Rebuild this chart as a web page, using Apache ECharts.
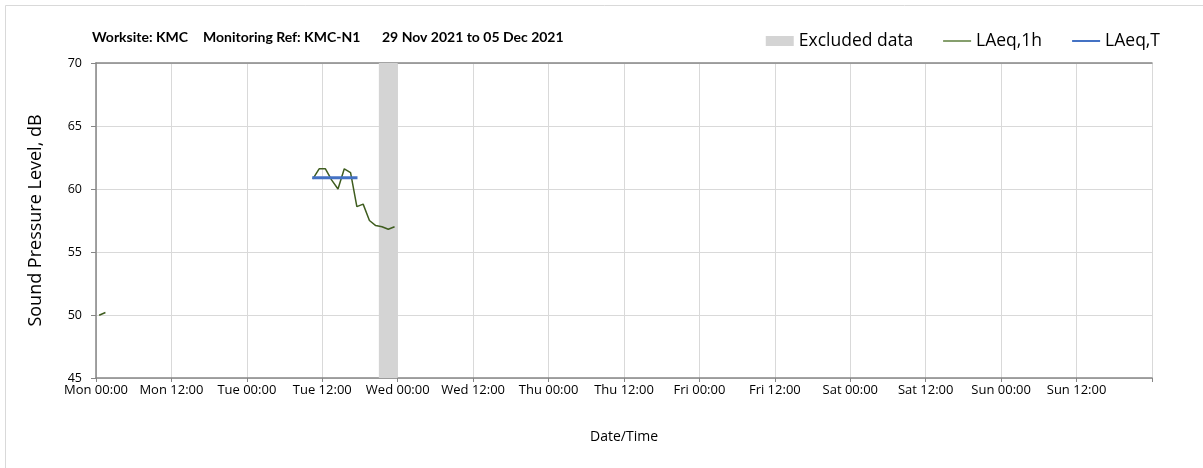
<!DOCTYPE html>
<html>
<head>
<meta charset="utf-8">
<script src="https://cdn.jsdelivr.net/npm/echarts@6/dist/echarts.min.js"></script>
<style>
  html, body { margin: 0; padding: 0; background: #fff; }
  #chart { width: 1203px; height: 468px; }
</style>
</head>
<body>
<div id="chart"></div>
<script>
// hours counted from Mon 29 Nov 2021 00:00
const tickLabels = ['Mon 00:00', 'Mon 12:00', 'Tue 00:00', 'Tue 12:00', 'Wed 00:00', 'Wed 12:00',
  'Thu 00:00', 'Thu 12:00', 'Fri 00:00', 'Fri 12:00', 'Sat 00:00', 'Sat 12:00', 'Sun 00:00', 'Sun 12:00'];
const hourlyHours = [0.5, 1.5, 2.5, 34.5, 35.5, 36.5, 37.5, 38.5, 39.5, 40.5, 41.5, 42.5, 43.5, 44.5, 45.5, 46.5, 47.5];
const hourlyValues = [49.98, 50.2, null, 60.8, 61.6, 61.6, 60.7, 60.0, 61.6, 61.3, 58.6, 58.8, 57.5, 57.1, 57.0, 56.8, 57.0];
const periodHours = [34.4, 41.6];
const periodValues = [60.9, 60.9];
const excludedRange = [45, 48];

const chart = echarts.init(document.getElementById('chart'));
const font = '"Open Sans", Lato, sans-serif';
const titleFont = 'Lato, "Open Sans", sans-serif';
const titleStyle = { fontSize: 14, fontWeight: 'bold', color: '#000', fontFamily: titleFont };

const option = {
  backgroundColor: '#fff',
  animation: false,
  textStyle: { fontFamily: font },
  title: [
    { text: 'Worksite: KMC', left: 87, top: 25, textStyle: titleStyle },
    { text: 'Monitoring Ref: KMC-N1', left: 198, top: 25, textStyle: titleStyle },
    { text: '29 Nov 2021 to 05 Dec 2021', left: 377, top: 25, textStyle: titleStyle }
  ],
  graphic: [{
    type: 'rect',
    shape: { x: 5.5, y: 5.5, width: 1220, height: 500 },
    style: { fill: 'none', stroke: '#d9d9d9', lineWidth: 1 },
    silent: true
  }],
  legend: {
    right: 38,
    top: 27,
    itemGap: 29,
    itemWidth: 28,
    itemHeight: 10,
    textStyle: { fontSize: 17.5, color: '#000', fontFamily: font },
    data: [
      { name: 'Excluded data', icon: 'rect', itemStyle: { color: '#d4d4d4' } },
      { name: 'LAeq,1h', itemStyle: { color: 'rgba(0,0,0,0)', borderWidth: 0 }, lineStyle: { color: '#5e7f3c', width: 1.5 } },
      { name: 'LAeq,T', itemStyle: { color: 'rgba(0,0,0,0)', borderWidth: 0 } }
    ]
  },
  grid: { left: 96, right: 51, top: 63, bottom: 90 },
  xAxis: [{
    type: 'value',
    min: 0,
    max: 168,
    interval: 12,
    name: 'Date/Time',
    nameLocation: 'middle',
    nameGap: 52,
    nameTextStyle: { fontSize: 14, color: '#000', fontFamily: font },
    axisLine: { lineStyle: { color: '#868686', width: 1.5 } },
    axisTick: { show: true, length: 4, lineStyle: { color: '#868686' } },
    axisLabel: {
      fontSize: 13, color: '#000', margin: 6, fontFamily: font,
      formatter: function (v) { return tickLabels[v / 12] || ''; }
    },
    splitLine: { show: true, lineStyle: { color: '#d9d9d9' } }
  }, {
    type: 'value',
    position: 'top',
    min: 0,
    max: 168,
    interval: 12,
    axisLine: { show: true, lineStyle: { color: '#868686', width: 1.5 } },
    axisTick: { show: false },
    axisLabel: { show: false },
    splitLine: { show: false }
  }],
  yAxis: {
    type: 'value',
    min: 45,
    max: 70,
    interval: 5,
    name: 'Sound Pressure Level, dB',
    nameLocation: 'middle',
    nameGap: 51,
    nameTextStyle: { fontSize: 18, color: '#000', fontFamily: font },
    axisLine: { show: true, lineStyle: { color: '#868686', width: 1.5 } },
    axisTick: { show: true, length: 5, lineStyle: { color: '#868686' } },
    axisLabel: { fontSize: 12.5, color: '#000', margin: 14, fontFamily: font },
    splitLine: { show: true, lineStyle: { color: '#d9d9d9' } }
  },
  series: [
    {
      name: 'Excluded data',
      type: 'line',
      data: [],
      itemStyle: { color: '#d4d4d4' },
      markArea: {
        silent: true,
        itemStyle: { color: '#d4d4d4' },
        data: [[{ xAxis: excludedRange[0] }, { xAxis: excludedRange[1] }]]
      }
    },
    {
      name: 'LAeq,1h',
      type: 'line',
      symbol: 'none',
      connectNulls: false,
      z: 3,
      itemStyle: { color: '#3f5d1f' },
      lineStyle: { color: '#3f5d1f', width: 1.5 },
      data: hourlyHours.map(function (h, i) { return [h, hourlyValues[i]]; })
    },
    {
      name: 'LAeq,T',
      type: 'line',
      symbol: 'none',
      z: 4,
      itemStyle: { color: '#4472c4' },
      lineStyle: { color: '#4472c4', width: 3 },
      data: periodHours.map(function (h, i) { return [h, periodValues[i]]; })
    }
  ]
};

chart.setOption(option);
</script>
</body>
</html>
